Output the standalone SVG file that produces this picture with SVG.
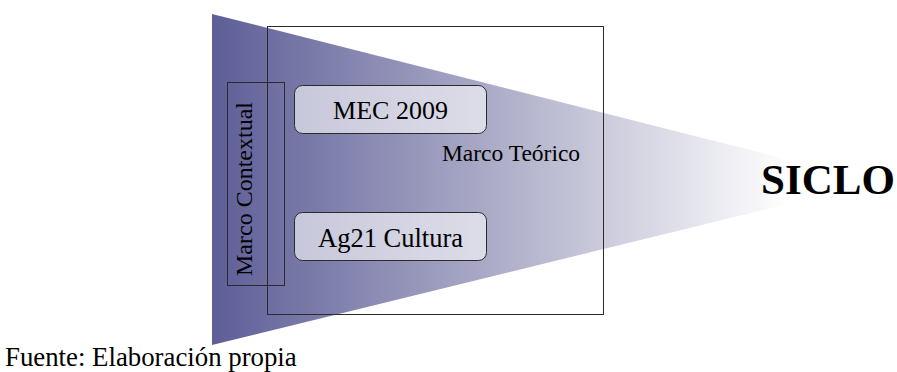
<svg xmlns="http://www.w3.org/2000/svg" width="897" height="372" viewBox="0 0 897 372">
<style>
  text { font-family: 'Liberation Serif', 'Times New Roman', 'DejaVu Serif', serif; fill: #000000; }
  .frame { fill: none; stroke: #2b2b2b; stroke-width: 1; }
  .pill { fill: #ffffff; fill-opacity: 0.6; stroke: #2b2b2b; stroke-width: 1; }
</style>
<defs>
  <linearGradient id="fade" gradientUnits="userSpaceOnUse" x1="212" y1="0" x2="790" y2="0">
    <stop offset="0" stop-color="#5e5e98"/>
    <stop offset="0.5" stop-color="#aeaec9"/>
    <stop offset="1" stop-color="#ffffff"/>
  </linearGradient>
</defs>
<rect width="897" height="372" fill="#ffffff"/>
<g id="cone">
  <polygon points="212,14 877,182 212,345" fill="url(#fade)"/>
</g>
<g id="marco-teorico">
  <rect class="frame" x="267.5" y="26.5" width="336" height="288"/>
  <text x="511" y="161" font-size="23.5" text-anchor="middle">Marco Teórico</text>
</g>
<g id="marco-contextual">
  <rect class="frame" x="227.5" y="82.5" width="57" height="203"/>
  <text transform="translate(252,189) rotate(-90)" font-size="24" text-anchor="middle">Marco Contextual</text>
</g>
<g id="mec2009">
  <rect class="pill" x="294.5" y="85.5" width="192" height="48" rx="8"/>
  <text x="390.5" y="119" font-size="26" text-anchor="middle">MEC 2009</text>
</g>
<g id="ag21">
  <rect class="pill" x="294.5" y="212.5" width="192" height="48" rx="8"/>
  <text x="390.5" y="246.5" font-size="26.5" text-anchor="middle">Ag21 Cultura</text>
</g>
<g id="siclo">
  <text x="828" y="194" font-size="43" font-weight="bold" text-anchor="middle">SICLO</text>
</g>
<g id="connectors"></g>
<g id="footer">
  <text x="5" y="366" font-size="26.8">Fuente: Elaboración propia</text>
</g>
</svg>
